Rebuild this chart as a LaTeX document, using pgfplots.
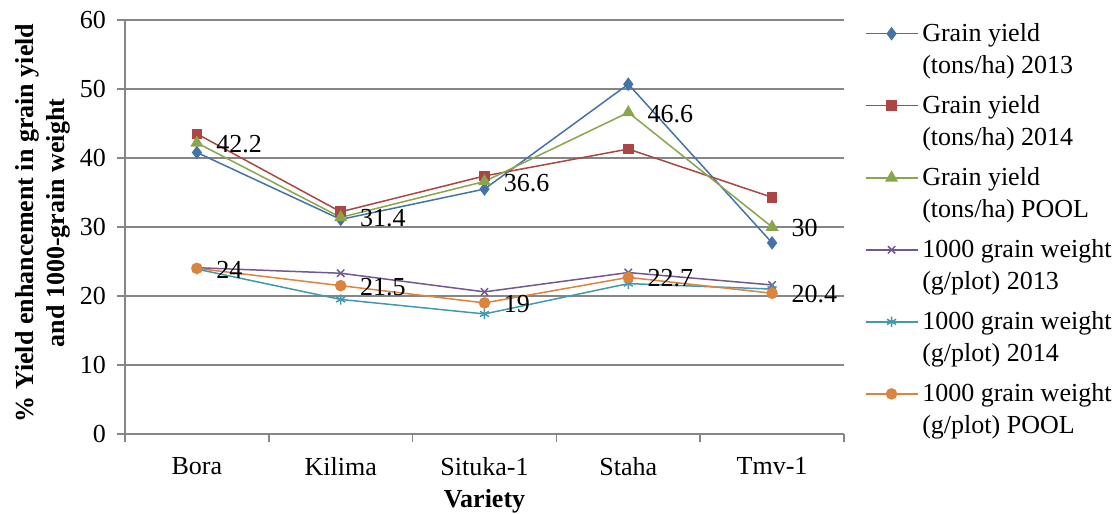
\documentclass[border=0pt]{standalone}
\usepackage{fontspec}
\setmainfont{Liberation Serif}
\usepackage{pgfplots}
\pgfplotsset{compat=1.18}
\definecolor{cA}{HTML}{4572A7}
\definecolor{cB}{HTML}{AA4643}
\definecolor{cC}{HTML}{89A54E}
\definecolor{cD}{HTML}{71588F}
\definecolor{cE}{HTML}{4198AF}
\definecolor{cF}{HTML}{DB843D}
\definecolor{axgray}{HTML}{868686}
\begin{document}
\begin{tikzpicture}[font=\fontsize{13}{16}\selectfont]
\begin{axis}[name=ax, at={(0,0)}, anchor=south west,
  scale only axis, width=359.5pt, height=207pt,
  /pgf/number format/assume math mode=true,
  xmin=-0.5, xmax=4.5, ymin=0, ymax=60, ytick={0,10,...,60},
  xtick={0,...,4}, xticklabels={Bora,Kilima,Situka-1,Staha,Tmv-1},
  xtick style={draw=none},
  extra x ticks={-0.5,0.5,1.5,2.5,3.5,4.5}, extra x tick labels={},
  extra x tick style={xtick style={draw=axgray, line width=0.75pt}},
  axis x line*=bottom, axis y line*=left,
  axis line style={draw=axgray, line width=0.75pt},
  ymajorgrids, grid style={draw=axgray, line width=0.75pt},
  tick align=outside, major tick length=4pt,
  ytick style={draw=axgray, line width=0.75pt},
  yticklabel style={xshift=-2pt},
  xticklabel style={yshift=-4pt},
  xlabel={Variety},
  ylabel={\% Yield enhancement in grain yield\\and 1000-grain weight},
  xlabel style={at={(axis description cs:0.5,-0.162)}, anchor=center, font=\bfseries\fontsize{13}{16}\selectfont},
  ylabel style={at={(axis description cs:-0.114,0.51)}, anchor=center, align=center, font=\bfseries\fontsize{13}{15.5}\selectfont},
  legend style={draw=none, fill=none, at={(rel axis cs:1.0284,1.003)}, anchor=north west,
    inner sep=0pt, row sep=5.5pt, nodes={align=left, inner sep=2pt}},
  legend cell align=left,
  legend image code/.code={\draw[mark repeat=2,mark phase=2] plot coordinates {(0pt,8pt) (13pt,8pt) (26pt,8pt)};},
  every axis plot/.append style={line width=0.75pt},
]
\addplot[cA, mark=diamond*, mark size=2.8pt] coordinates {(0,40.8) (1,31.1) (2,35.5) (3,50.7) (4,27.7)};
\addlegendentry{Grain yield\\(tons/ha) 2013}
\addplot[cB, mark=square*, mark size=2.3pt] coordinates {(0,43.5) (1,32.2) (2,37.4) (3,41.3) (4,34.3)};
\addlegendentry{Grain yield\\(tons/ha) 2014}
\addplot[cC, mark=triangle*, mark size=3pt,
  nodes near coords, nodes near coords style={black, anchor=west, xshift=6pt, yshift=-0.6pt, font=\fontsize{13}{15}\selectfont}]
  coordinates {(0,42.2) (1,31.4) (2,36.6) (3,46.6) (4,30)};
\addlegendentry{Grain yield\\(tons/ha) POOL}
\addplot[cD, mark=x, mark size=2.6pt] coordinates {(0,24.1) (1,23.3) (2,20.6) (3,23.4) (4,21.6)};
\addlegendentry{1000 grain weight\\(g/plot) 2013}
\addplot[cE, mark=asterisk, mark size=2.6pt] coordinates {(0,23.9) (1,19.5) (2,17.4) (3,21.8) (4,21.0)};
\addlegendentry{1000 grain weight\\(g/plot) 2014}
\addplot[cF, mark=*, mark size=2.5pt,
  nodes near coords, nodes near coords style={black, anchor=west, xshift=6pt, yshift=-0.6pt, font=\fontsize{13}{15}\selectfont}]
  coordinates {(0,24) (1,21.5) (2,19) (3,22.7) (4,20.4)};
\addlegendentry{1000 grain weight\\(g/plot) POOL}
\end{axis}
\pgfresetboundingbox
\path (-62.5pt,-40pt) rectangle (497.5pt,217pt);
\end{tikzpicture}
\end{document}
